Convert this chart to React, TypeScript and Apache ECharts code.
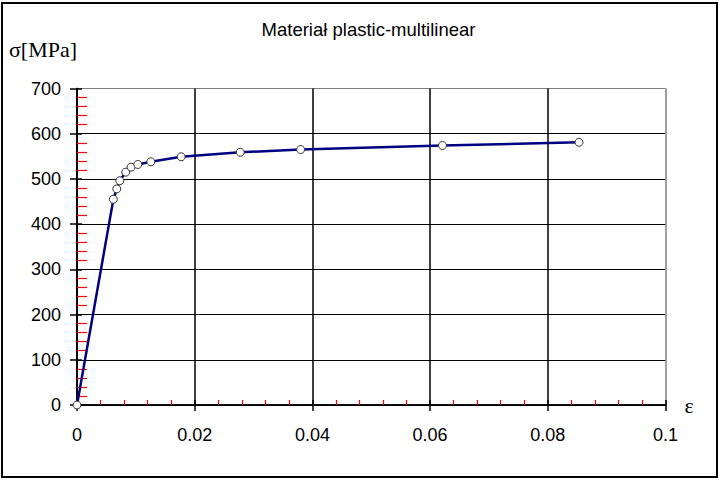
import React, { useEffect, useRef } from "react";
import * as echarts from "echarts";

const strainValues = [0, 0.00618, 0.00676, 0.00727, 0.00829, 0.00919, 0.01033, 0.01254, 0.0177, 0.02774, 0.038, 0.0621, 0.0853];
const stressValues = [0, 455, 478, 496, 515, 526, 532, 538, 549, 559, 565, 574, 581];
const titleText = "Materiał plastic-multilinear";
const yAxisTitle = "σ[MPa]";
const xAxisTitle = "ε";

export default function App() {
  const ref = useRef<HTMLDivElement>(null);
  useEffect(() => {
    document.body.style.margin = "0";
    if (!ref.current) return;
    const chart = echarts.init(ref.current, undefined, { renderer: "svg" });
    const data = strainValues.map((x, i) => [x, stressValues[i]]);
    const sans = "Liberation Sans, Arial, sans-serif";
    const serif = "Liberation Serif, Times New Roman, serif";
    const xGridColors = ["#000", "#000", "#000", "#000", "#000", "#808080"];
    const yGridColors = ["#000", "#000", "#000", "#000", "#000", "#000", "#000", "#808080"];
    chart.setOption({
      animation: false,
      backgroundColor: "#fff",
      grid: { left: 77, right: 54.5, top: 88.5, bottom: 75, containLabel: false },
      graphic: [
        {
          type: "rect",
          shape: { x: 2, y: 3, width: 715, height: 474 },
          style: { fill: "none", stroke: "#000", lineWidth: 2 },
          silent: true,
        },
        {
          type: "text",
          x: 368.5,
          y: 29,
          style: { text: titleText, font: `18.5px ${sans}`, fill: "#000", align: "center", verticalAlign: "middle" },
        },
        {
          type: "text",
          x: 9,
          y: 49,
          style: { text: yAxisTitle, font: `22px ${serif}`, fill: "#000", align: "left", verticalAlign: "middle" },
        },
      ],
      xAxis: [
        {
          type: "value",
          min: 0,
          max: 0.1,
          interval: 0.02,
          position: "bottom",
          name: xAxisTitle,
          nameLocation: "end",
          nameGap: 19,
          nameTextStyle: { fontFamily: serif, fontSize: 22, color: "#000", verticalAlign: "middle" },
          axisLine: { show: true, lineStyle: { color: "#000", width: 1.5 } },
          axisTick: { show: true, inside: true, length: 5, lineStyle: { color: "#000", width: 1.5 } },
          minorTick: { show: true, splitNumber: 5, length: 5, lineStyle: { color: "red", width: 1.2 } },
          axisLabel: { fontFamily: sans, fontSize: 18, color: "#000", margin: 21 },
          splitLine: { show: true, lineStyle: { color: xGridColors, width: 1.5 } },
        },
        {
          type: "value",
          min: 0,
          max: 0.1,
          interval: 0.02,
          position: "bottom",
          axisLine: { show: true, lineStyle: { color: "#000", width: 1.5 } },
          axisTick: { show: true, inside: false, length: 6, lineStyle: { color: "#000", width: 1.5 } },
          axisLabel: { show: false },
          splitLine: { show: false },
        },
      ],
      yAxis: [
        {
          type: "value",
          min: 0,
          max: 700,
          interval: 100,
          position: "left",
          axisLine: { show: true, lineStyle: { color: "#000", width: 1.5 } },
          axisTick: { show: true, inside: true, length: 5, lineStyle: { color: "#000", width: 1.5 } },
          minorTick: { show: true, splitNumber: 5, length: 10, lineStyle: { color: "red", width: 1.2 } },
          axisLabel: { fontFamily: sans, fontSize: 18, color: "#000", margin: 16 },
          splitLine: { show: true, lineStyle: { color: yGridColors, width: 1.2 } },
        },
        {
          type: "value",
          min: 0,
          max: 700,
          interval: 100,
          position: "left",
          axisLine: { show: true, lineStyle: { color: "#000", width: 1.5 } },
          axisTick: { show: true, inside: false, length: 7, lineStyle: { color: "#000", width: 1.5 } },
          axisLabel: { show: false },
          splitLine: { show: false },
        },
      ],
      series: [
        {
          type: "line",
          xAxisIndex: 1,
          yAxisIndex: 1,
          data,
          symbol: "none",
          silent: true,
          lineStyle: { opacity: 0 },
          z: 1,
        },
        {
          type: "line",
          xAxisIndex: 0,
          yAxisIndex: 0,
          data,
          symbol: "circle",
          symbolSize: 8,
          showAllSymbol: true,
          lineStyle: { color: "#000080", width: 2.5 },
          itemStyle: { color: "#fff", borderColor: "#333", borderWidth: 1 },
          z: 5,
        },
      ],
    });
    return () => chart.dispose();
  }, []);
  return <div ref={ref} style={{ position: "absolute", left: 0, top: 0, width: 720, height: 480 }} />;
}
